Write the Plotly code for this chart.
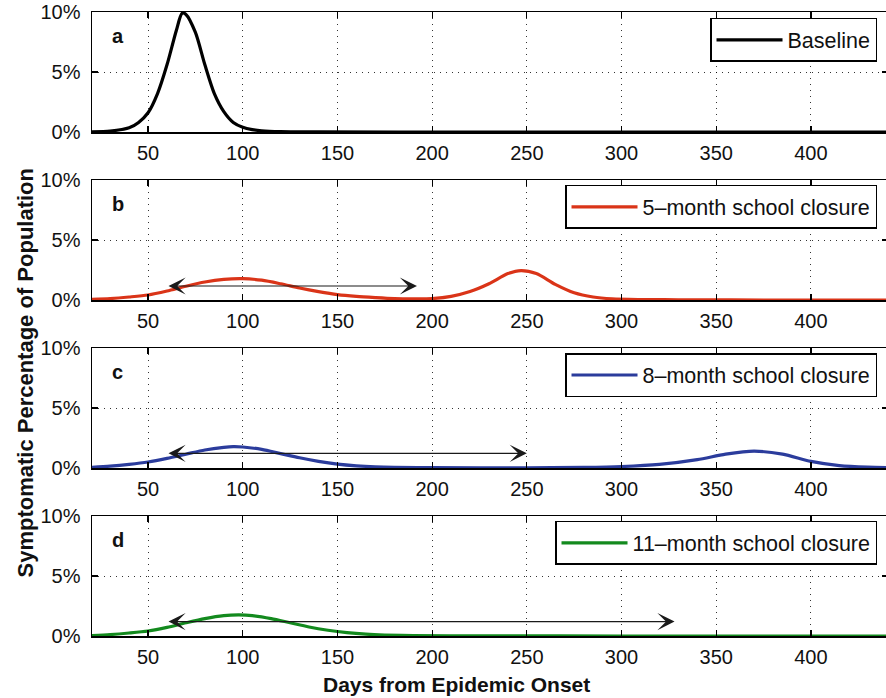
import plotly.graph_objects as go
from plotly.subplots import make_subplots

# ---------------- data ----------------
days_a = [20, 30, 40, 45, 50, 55, 60, 65, 68, 70, 75, 80, 85, 90, 95, 100, 105, 110, 120, 140, 200, 445]
base_a = [0.02, 0.08, 0.35, 0.8, 1.6, 3.2, 5.6, 8.5, 9.9, 9.8, 8.3, 5.6, 3.2, 1.7, 0.8, 0.4, 0.2, 0.1, 0.03, 0.01, 0.0, 0.0]

days_b = [20, 30, 40, 50, 60, 70, 80, 90, 100, 110, 120, 130, 140, 150, 160, 170, 180, 190, 200, 210, 220, 230, 240, 247, 255, 265, 275, 285, 295, 310, 330, 380, 445]
vals_b = [0.05, 0.12, 0.25, 0.42, 0.75, 1.15, 1.5, 1.72, 1.78, 1.65, 1.35, 1.0, 0.7, 0.45, 0.3, 0.2, 0.12, 0.1, 0.12, 0.3, 0.7, 1.35, 2.2, 2.45, 2.2, 1.3, 0.6, 0.25, 0.1, 0.04, 0.02, 0.0, 0.0]

days_c = [20, 30, 40, 50, 60, 70, 80, 90, 95, 100, 110, 120, 130, 140, 150, 160, 170, 180, 200, 250, 280, 300, 320, 340, 355, 370, 385, 400, 415, 430, 445]
vals_c = [0.05, 0.15, 0.3, 0.5, 0.8, 1.15, 1.5, 1.72, 1.78, 1.75, 1.55, 1.2, 0.85, 0.55, 0.32, 0.18, 0.1, 0.06, 0.03, 0.02, 0.05, 0.12, 0.3, 0.7, 1.15, 1.4, 1.15, 0.55, 0.2, 0.07, 0.03]

days_d = [20, 30, 40, 50, 60, 70, 80, 90, 98, 105, 115, 125, 135, 145, 155, 165, 175, 190, 220, 300, 445]
vals_d = [0.04, 0.12, 0.25, 0.42, 0.72, 1.1, 1.45, 1.7, 1.76, 1.7, 1.45, 1.1, 0.75, 0.48, 0.28, 0.15, 0.08, 0.03, 0.01, 0.0, 0.0]

series_names = ["Baseline", "5\u2013month school closure", "8\u2013month school closure", "11\u2013month school closure"]
series_colors = ["#000000", "#DA3418", "#2B3C9C", "#138A1E"]
panel_letters = ["a", "b", "c", "d"]

# closure-period arrows (panels b, c, d): start day, end day, height (%)
arrow_start = [60, 60, 60]
arrow_end = [192, 250, 328]
arrow_level = [1.17, 1.22, 1.2]

x_ticks = [50, 100, 150, 200, 250, 300, 350, 400]
y_ticks = [0, 5, 10]
y_tick_text = ["0%", "5%", "10%"]

# ---------------- figure ----------------
FONT = "Liberation Sans, Arial, Helvetica, sans-serif"
fig = make_subplots(rows=4, cols=1)

xs = [days_a, days_b, days_c, days_d]
ys = [base_a, vals_b, vals_c, vals_d]
legend_ids = ["legend", "legend2", "legend3", "legend4"]
for i in range(4):
    fig.add_trace(go.Scatter(x=xs[i], y=ys[i], mode="lines", name=series_names[i],
                             line=dict(color=series_colors[i], width=3.2, shape="spline", smoothing=0.8),
                             legend=legend_ids[i], showlegend=True), row=i + 1, col=1)

# plot area: px x 92..888 (right edge just past the window), y 12..636
domains = [[504 / 624, 1.0], [336 / 624, 456 / 624], [168 / 624, 288 / 624], [0.0, 120 / 624]]
legend_tops = [0.9904, 0.7228, 0.4535, 0.1843]

axis_common = dict(showline=True, linecolor="black", linewidth=1.5, mirror="ticks",
                   ticks="inside", ticklen=6, tickcolor="black", tickwidth=1.2,
                   showgrid=True, gridcolor="black", gridwidth=0.8, griddash="1px,5px",
                   zeroline=False, automargin=False, ticklabeloverflow="allow",
                   tickfont=dict(family=FONT, size=20, color="#111"))

layout_updates = {}
for i in range(4):
    sfx = "" if i == 0 else str(i + 1)
    layout_updates["xaxis" + sfx] = dict(axis_common, range=[20.4, 440.7], tickvals=x_ticks,
                                         anchor="y" + sfx, ticklabelstandoff=2)
    layout_updates["yaxis" + sfx] = dict(axis_common, range=[0, 10], tickvals=y_ticks,
                                         ticktext=y_tick_text, domain=domains[i],
                                         anchor="x" + sfx, ticklabelstandoff=6)
    layout_updates[legend_ids[i]] = dict(x=0.9862, y=legend_tops[i], xanchor="right", yanchor="top",
                                         bgcolor="white", bordercolor="black", borderwidth=1.5,
                                         font=dict(family=FONT, size=21.5, color="#111"),
                                         itemwidth=66, tracegroupgap=0)
fig.update_layout(**layout_updates)

annotations = []
for i in range(4):
    sfx = "" if i == 0 else str(i + 1)
    annotations.append(dict(x=34, y=8.0, xref="x" + sfx, yref="y" + sfx, text="<b>%s</b>" % panel_letters[i],
                            showarrow=False, font=dict(family=FONT, size=20, color="#111"),
                            xanchor="center", yanchor="middle"))
for j in range(3):
    sfx = str(j + 2)
    annotations.append(dict(x=arrow_end[j], y=arrow_level[j], ax=arrow_start[j], ay=arrow_level[j],
                            xref="x" + sfx, yref="y" + sfx, axref="x" + sfx, ayref="y" + sfx,
                            text="", showarrow=True, arrowhead=3, arrowside="end+start",
                            arrowsize=2.6, arrowwidth=1.1, arrowcolor="#1a1a1a", standoff=0, startstandoff=0))

annotations.append(dict(x=0.4585, y=-0.0785, xref="paper", yref="paper",
                        text="<b>Days from Epidemic Onset</b>", showarrow=False,
                        font=dict(family=FONT, size=21, color="#111"), xanchor="center", yanchor="middle"))
annotations.append(dict(x=-0.1018, y=0.423, xref="paper", yref="paper",
                        text="<b>Symptomatic Percentage of Population</b>", showarrow=False, textangle=-90,
                        font=dict(family=FONT, size=22, color="#111"), xanchor="left", yanchor="middle"))

fig.update_layout(width=888, height=698, margin=dict(l=92, r=0, t=12, b=62, autoexpand=False),
                  paper_bgcolor="white", plot_bgcolor="white", annotations=annotations,
                  hovermode=False)

fig.write_html("out.html", config={"displayModeBar": False, "staticPlot": True},
               post_script="document.body.style.margin='0';document.body.style.overflow='hidden';")
